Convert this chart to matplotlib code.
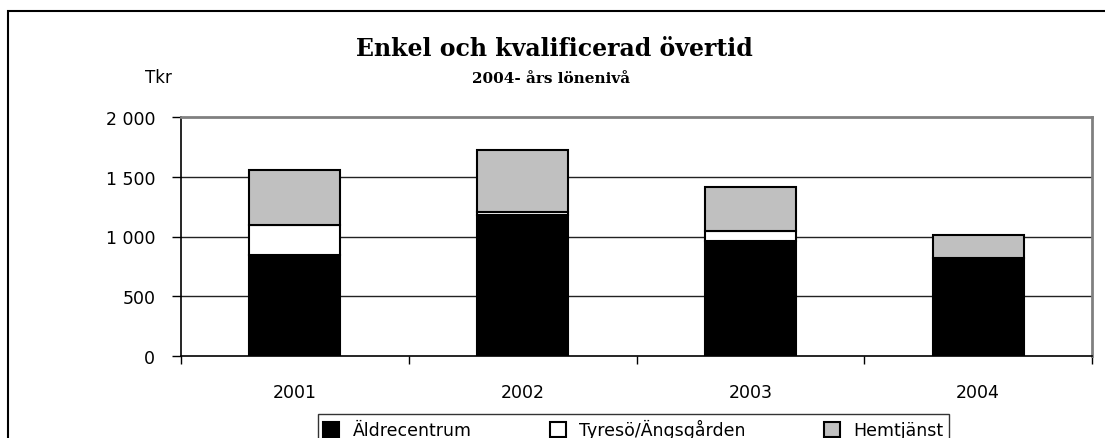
import matplotlib
matplotlib.use('Agg')
import matplotlib.pyplot as plt
from matplotlib.patches import Rectangle, Patch
import numpy as np

# Values (Tkr)
years = ['2001', '2002', '2003', '2004']
aldrecentrum = [848, 1181, 966, 820]
tyreso = [250, 28, 81, 0]
hemtjanst = [460, 520, 369, 190]

series = [
    ('Äldrecentrum', aldrecentrum, 'black'),
    ('Tyresö/Ängsgården', tyreso, 'white'),
    ('Hemtjänst', hemtjanst, '#c0c0c0'),
]

W, H = 1105, 439
fig = plt.figure(figsize=(W / 100, H / 100), dpi=100)
ax = fig.add_axes([181 / W, 1 - 356.7 / H, (1092 - 181) / W, (356.7 - 118.3) / H])

x = np.arange(len(years))
bottom = np.zeros(len(years))
handles = []
for name, vals, color in series:
    ax.bar(x, vals, width=0.4, bottom=bottom, color=color,
           edgecolor='black', linewidth=1.5, zorder=3)
    bottom += np.array(vals)
    handles.append(Patch(facecolor=color, edgecolor='black', linewidth=1.5, label=name))

ax.set_xlim(-0.5, 3.5)
ax.set_ylim(0, 2000)

# gridlines
ax.set_yticks([0, 500, 1000, 1500, 2000])
ax.set_yticklabels(['0', '500', '1 000', '1 500', '2 000'])
for v in [500, 1000, 1500]:
    ax.axhline(v, color='#222222', linewidth=1, zorder=1)

# category axis: ticks between categories, labels at the centres
ax.set_xticks([-0.5, 0.5, 1.5, 2.5, 3.5])
ax.set_xticklabels([])
ax.set_xticks(x, minor=True)
ax.set_xticklabels(years, minor=True)
ax.tick_params(axis='x', which='major', direction='out', length=5.5, width=1, color='black')
ax.tick_params(axis='x', which='minor', length=0, pad=20, labelsize=12.5)
ax.tick_params(axis='y', direction='out', length=6.5, width=1, pad=12, labelsize=12.5)

for side in ['top', 'right']:
    ax.spines[side].set_color('#808080')
    ax.spines[side].set_linewidth(2)
ax.spines['left'].set_linewidth(1.2)
ax.spines['bottom'].set_linewidth(1.2)

fig.text(0.502, 1 - 48.5 / H, 'Enkel och kvalificerad övertid', ha='center', va='center',
         family='DejaVu Serif', fontweight='bold', fontsize=17)
fig.text(0.499, 1 - 78.8 / H, '2004- års lönenivå', ha='center', va='center',
         family='DejaVu Serif', fontweight='bold', fontsize=11)
fig.text(158 / W, 1 - 78 / H, 'Tkr', ha='center', va='center', fontsize=12)

leg = fig.legend(handles=handles, loc='upper center', bbox_to_anchor=(633.5 / W, 1 - 415 / H),
                 ncol=3, frameon=True, fontsize=12.5, handlelength=0.9, handleheight=0.9,
                 handletextpad=0.8, columnspacing=4.5, borderaxespad=0, borderpad=0.3,
                 fancybox=False, edgecolor='black')
leg.get_frame().set_linewidth(1)

# chart border
fig.add_artist(Rectangle((8 / W, -0.1), 1.2, 1.1 - 12 / H, transform=fig.transFigure,
                         fill=False, edgecolor='black', linewidth=1.5))

fig.savefig('out.png', dpi=100)
